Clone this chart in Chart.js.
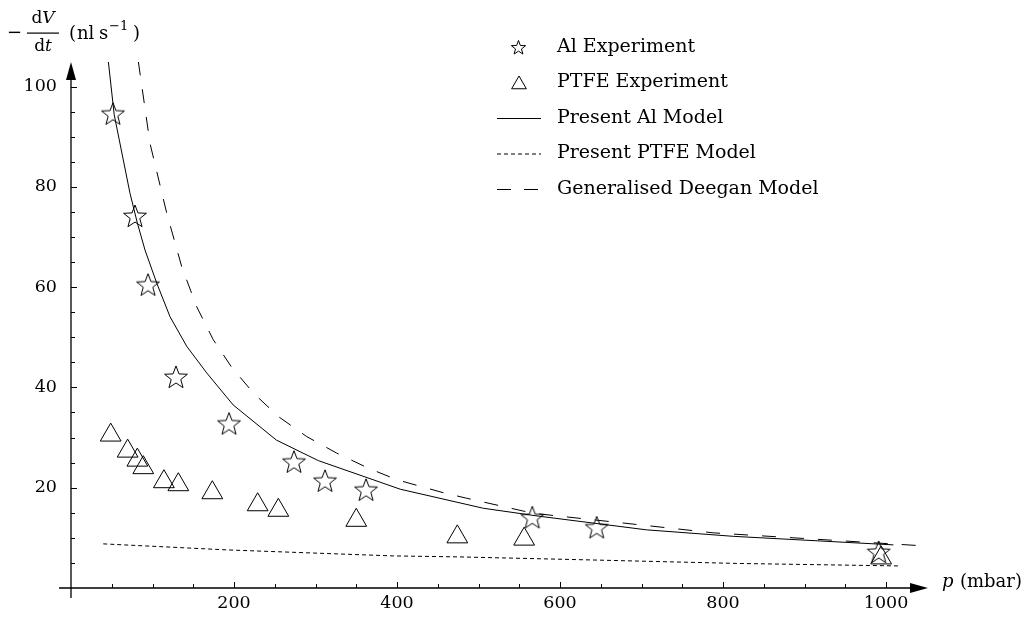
<!DOCTYPE html>
<html>
<head>
<meta charset="utf-8">
<script src="https://cdn.jsdelivr.net/npm/chart.js@4/dist/chart.umd.min.js"></script>
<style>
  html, body { margin: 0; padding: 0; background: #fff; }
</style>
</head>
<body>
<canvas id="rateChart" width="1036" height="619"></canvas>
<script>
// Al experiment (stars)
const alP = [51.5, 78.5, 94.5, 128.8, 193.9, 273.6, 311.7, 362, 566, 645, 991];
const alRate = [94.4, 74.0, 60.3, 41.9, 32.6, 25.0, 21.2, 19.4, 13.9, 11.9, 7.0];

// PTFE experiment (triangles)
const ptfeP = [48.7, 69.5, 81.4, 88.7, 114, 131.7, 173.4, 229, 254.4, 350, 474, 556, 994];
const ptfeRate = [30.5, 27.3, 25.5, 24.0, 21.2, 20.6, 19.0, 16.6, 15.5, 13.5, 10.2, 9.75, 6.0];

// Present Al model (solid)
const alModelP = [45.8, 53, 72.4, 81.4, 90.8, 105.2, 121.5, 142, 166.5, 199, 252, 303.5, 404, 506, 575, 706, 813, 1009];
const alModelRate = [105, 94.4, 78.7, 72.8, 67.4, 60.8, 54.1, 48.2, 42.9, 36.5, 29.5, 25.4, 19.7, 15.9, 14.3, 11.6, 10.3, 8.6];

// Present PTFE model (short dashes)
const ptfeModelP = [39.6, 191, 395, 477, 637, 817, 1015];
const ptfeModelRate = [8.8, 7.6, 6.4, 6.2, 5.6, 4.9, 4.4];

// Generalised Deegan model (long dashes)
const deeganP = [82.6, 96.9, 117.4, 135.8, 154.2, 174.6, 197.2, 223.7, 254.4, 289.2, 326, 364.8, 399.6, 456.8, 485.5, 567, 698, 788, 1046];
const deeganRate = [105, 88.7, 74.8, 64.1, 56.1, 49.5, 44.0, 38.9, 34.2, 30.2, 26.9, 23.9, 21.6, 19.0, 17.9, 14.9, 12.6, 11.0, 8.4];

// tick positions (minor + major) and labelled ticks
const xTicks = [50, 100, 150, 200, 250, 300, 350, 400, 450, 500, 550, 600, 650, 700, 750, 800, 850, 900, 950, 1000];
const yTicks = [5, 10, 15, 20, 25, 30, 35, 40, 45, 50, 55, 60, 65, 70, 75, 80, 85, 90, 95, 100];
const xLabels = [200, 400, 600, 800, 1000];
const yLabels = [20, 40, 60, 80, 100];

const serif = '"DejaVu Serif", serif';

function pairs(xs, ys) {
    return xs.map((v, i) => ({ x: v, y: ys[i] }));
}

function starPath(ctx, cx, cy, R) {
    const r = R * 0.42;
    ctx.beginPath();
    for (let i = 0; i < 10; i++) {
        const ang = -Math.PI / 2 + i * Math.PI / 5;
        const rad = i % 2 === 0 ? R : r;
        const px = cx + Math.cos(ang) * rad;
        const py = cy + Math.sin(ang) * rad;
        if (i === 0) ctx.moveTo(px, py); else ctx.lineTo(px, py);
    }
    ctx.closePath();
}

function makeStar(R) {
    const c = document.createElement('canvas');
    const s = Math.ceil(R * 2 + 4);
    c.width = s; c.height = s;
    const g = c.getContext('2d');
    g.strokeStyle = '#000';
    g.lineWidth = 1;
    starPath(g, s / 2, s / 2, R);
    g.stroke();
    return c;
}

function triPath(ctx, cx, cy, r) {
    ctx.beginPath();
    ctx.moveTo(cx, cy - r);
    ctx.lineTo(cx + r * 0.866, cy + r / 2);
    ctx.lineTo(cx - r * 0.866, cy + r / 2);
    ctx.closePath();
}

const starImg = makeStar(12);

const lineStyle = {
    type: 'line',
    showLine: true,
    pointRadius: 0,
    borderColor: '#000',
    borderWidth: 1,
    fill: false,
    tension: 0
};

const axisDecor = {
    id: 'axisDecor',
    afterDraw(chart) {
        const { ctx, chartArea: a, scales: { x, y } } = chart;
        const x0 = x.getPixelForValue(0);
        const y0 = y.getPixelForValue(0);
        ctx.save();
        ctx.strokeStyle = '#000';
        ctx.fillStyle = '#000';

        // axes with arrows
        ctx.lineWidth = 1.3;
        ctx.beginPath();
        ctx.moveTo(x0 - 12, y0);
        ctx.lineTo(a.right - 10, y0);
        ctx.moveTo(x0, y0 + 10);
        ctx.lineTo(x0, a.top + 10);
        ctx.stroke();
        ctx.beginPath();
        ctx.moveTo(a.right, y0);
        ctx.lineTo(a.right - 18, y0 - 5);
        ctx.lineTo(a.right - 18, y0 + 5);
        ctx.closePath();
        ctx.fill();
        ctx.beginPath();
        ctx.moveTo(x0, a.top);
        ctx.lineTo(x0 - 5, a.top + 18);
        ctx.lineTo(x0 + 5, a.top + 18);
        ctx.closePath();
        ctx.fill();

        // tick marks, pointing into the plot
        ctx.lineWidth = 1;
        ctx.beginPath();
        x.ticks.forEach(t => {
            const px = Math.round(x.getPixelForValue(t.value)) + 0.5;
            const len = xLabels.includes(t.value) ? 6 : 4;
            ctx.moveTo(px, y0);
            ctx.lineTo(px, y0 - len);
        });
        y.ticks.forEach(t => {
            const py = Math.round(y.getPixelForValue(t.value)) + 0.5;
            const len = yLabels.includes(t.value) ? 6 : 4;
            ctx.moveTo(x0, py);
            ctx.lineTo(x0 + len, py);
        });
        ctx.stroke();

        // y axis title: -dV/dt (nl s^-1)
        ctx.textBaseline = 'middle';
        ctx.textAlign = 'left';
        ctx.font = `18px ${serif}`;
        ctx.fillText('\u2212', 7, 33);
        const frac = (up, it, cy) => {
            ctx.font = `17px ${serif}`;
            const w1 = ctx.measureText(up).width;
            ctx.font = `italic 17px ${serif}`;
            const w2 = ctx.measureText(it).width;
            const sx = 43 - (w1 + w2) / 2;
            ctx.font = `17px ${serif}`;
            ctx.fillText(up, sx, cy);
            ctx.font = `italic 17px ${serif}`;
            ctx.fillText(it, sx + w1, cy);
        };
        frac('d', 'V', 19);
        frac('d', 't', 47);
        ctx.fillRect(27, 32.5, 32, 1.2);
        ctx.font = `18px ${serif}`;
        ctx.fillText('(', 69, 34);
        ctx.fillText('nl', 77, 34);
        ctx.fillText('s', 99, 34);
        ctx.font = `13px ${serif}`;
        ctx.fillText('\u22121', 109, 27);
        ctx.font = `18px ${serif}`;
        ctx.fillText(')', 133, 34);

        // x axis title
        ctx.font = `italic 18px ${serif}`;
        ctx.fillText('p', 942, 582);
        ctx.font = `18px ${serif}`;
        ctx.fillText('(mbar)', 960, 582);

        // legend
        const rows = [47, 82.5, 118, 153.5, 189];
        const names = ['Al Experiment', 'PTFE Experiment', 'Present Al Model', 'Present PTFE Model', 'Generalised Deegan Model'];
        ctx.font = `19px ${serif}`;
        names.forEach((n, i) => ctx.fillText(n, 557, rows[i]));
        ctx.lineWidth = 1;
        starPath(ctx, 518.5, rows[0] + 1, 7.5);
        ctx.stroke();
        triPath(ctx, 519, rows[1] + 2, 8.5);
        ctx.stroke();
        const sample = (yy, dash) => {
            ctx.setLineDash(dash);
            ctx.beginPath();
            ctx.moveTo(497, yy);
            ctx.lineTo(541, yy);
            ctx.stroke();
        };
        sample(rows[2] + 0.5, []);
        sample(rows[3] + 0.5, [4, 3]);
        sample(rows[4] + 0.5, [14, 13]);
        ctx.restore();
    }
};

const ctx = document.getElementById('rateChart').getContext('2d');

const chart = new Chart(ctx, {
    type: 'scatter',
    data: {
        datasets: [
            {
                label: 'Al Experiment',
                data: pairs(alP, alRate),
                pointStyle: starImg,
                pointRadius: 12
            },
            {
                label: 'PTFE Experiment',
                data: pairs(ptfeP, ptfeRate),
                pointStyle: 'triangle',
                pointRadius: 12,
                borderColor: '#000',
                borderWidth: 1,
                backgroundColor: 'rgba(0,0,0,0)'
            },
            Object.assign({ label: 'Present Al Model', data: pairs(alModelP, alModelRate) }, lineStyle),
            Object.assign({ label: 'Present PTFE Model', data: pairs(ptfeModelP, ptfeModelRate), borderDash: [4, 3] }, lineStyle),
            Object.assign({ label: 'Generalised Deegan Model', data: pairs(deeganP, deeganRate), borderDash: [14, 14] }, lineStyle)
        ]
    },
    options: {
        responsive: false,
        animation: false,
        layout: {
            padding: { top: 62, right: 108, left: 0, bottom: 0 }
        },
        scales: {
            x: {
                type: 'linear',
                min: 0,
                max: 1051.5,
                grid: { display: false, drawTicks: false },
                border: { display: false },
                afterBuildTicks: s => { s.ticks = xTicks.map(v => ({ value: v })); },
                ticks: {
                    autoSkip: false,
                    maxRotation: 0,
                    padding: 5,
                    color: '#000',
                    font: { family: serif, size: 17.5 },
                    callback: v => xLabels.includes(v) ? String(v) : ''
                },
                afterFit: s => { s.height = 31; }
            },
            y: {
                type: 'linear',
                min: 0,
                max: 104.9,
                grid: { display: false, drawTicks: false },
                border: { display: false },
                afterBuildTicks: s => { s.ticks = yTicks.map(v => ({ value: v })); },
                ticks: {
                    autoSkip: false,
                    padding: 14,
                    color: '#000',
                    font: { family: serif, size: 17.5 },
                    callback: v => yLabels.includes(v) ? String(v) : ''
                },
                afterFit: s => { s.width = 71; }
            }
        },
        plugins: {
            legend: { display: false },
            tooltip: { enabled: false }
        }
    },
    plugins: [axisDecor]
});
</script>
</body>
</html>
